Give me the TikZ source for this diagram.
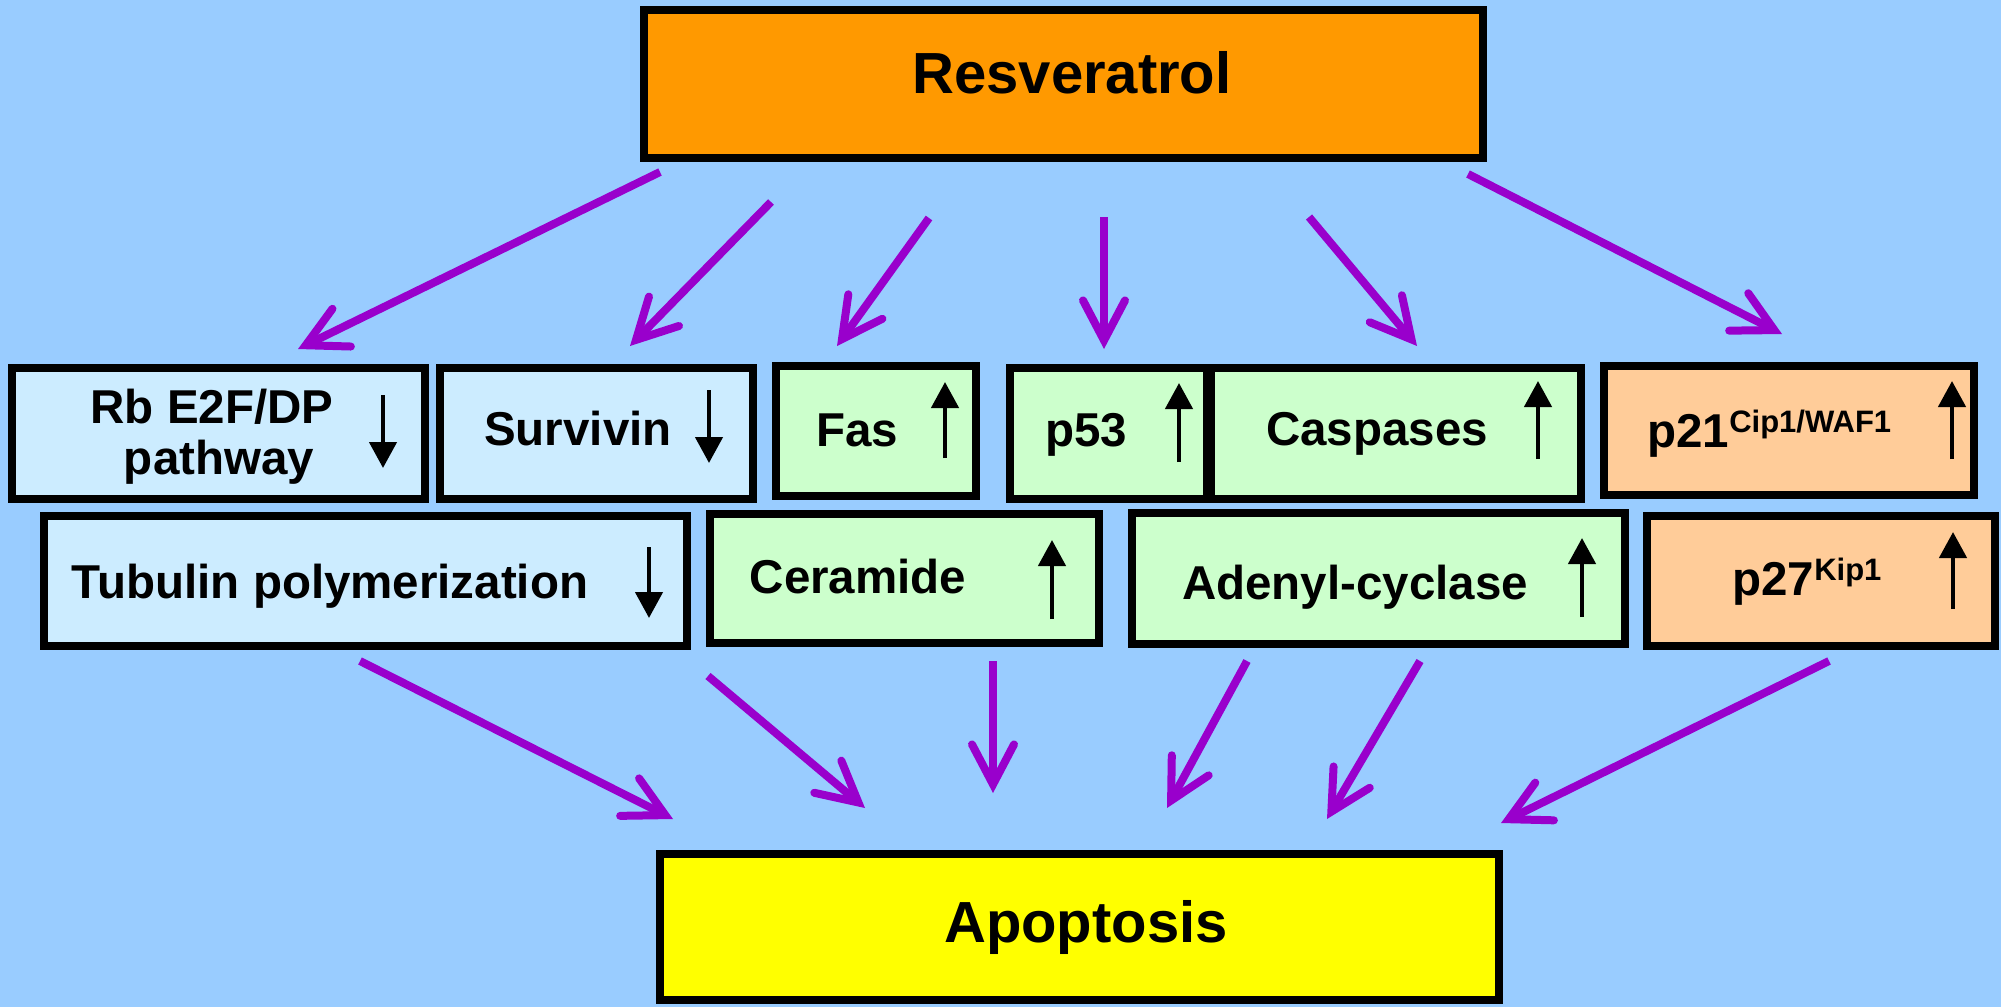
\documentclass[tikz,border=0pt]{standalone}
\usepackage{fontspec}
\setmainfont{Liberation Sans}
\usetikzlibrary{arrows.meta}
\definecolor{bgblue}{HTML}{99CCFF}
\definecolor{lblue}{HTML}{CCECFF}
\definecolor{lgreen}{HTML}{CCFFCC}
\definecolor{peach}{HTML}{FFCC99}
\definecolor{orng}{HTML}{FF9900}
\definecolor{yell}{HTML}{FFFF00}
\definecolor{purp}{HTML}{9900CC}
\tikzset{
  box/.style={draw=black, line width=4pt, inner sep=0pt},
  lbl/.style={font=\fontsize{23.75}{28}\selectfont\bfseries, inner sep=0pt, anchor=base},
  ttl/.style={font=\fontsize{29}{34}\selectfont\bfseries, inner sep=0pt, anchor=base},
  flow/.style={draw=purp, line width=4pt, -{Straight Barb[length=20pt,width=21pt,line cap=round,line join=miter]}},
  updown/.style={draw=black, line width=2.25pt, -{Triangle[length=13pt,width=13.5pt]}},
}
\newcommand{\mybox}[6]{\node[box, fill=#6, minimum width={(#4-#2-8)*0.5pt}, minimum height={(#5-#3-8)*0.5pt}] (#1) at ({(#2+#4)/2},{(#3+#5)/2}) {};}
\newcommand{\sups}[1]{\raisebox{7.25pt}{\fontsize{15.5}{18}\selectfont #1}}
\newcommand{\flowarrow}[5]{\coordinate (#1s) at (#2,#3); \coordinate (#1t) at (#4,#5); \draw[flow] (#1s) -- (#1t);}
\newcommand{\markarrow}[4]{\coordinate (#1a) at (#2,#3); \coordinate (#1b) at (#2,#4); \draw[updown] (#1a) -- (#1b);}
\begin{document}
\begin{tikzpicture}[x=0.5pt, y=-0.5pt]
\fill[bgblue] (0,0) rectangle (2001,1007);
\useasboundingbox (0,0) rectangle (2001,1007);

% main boxes
\mybox{res}{640}{6}{1487}{162}{orng}
\node[ttl] (restxt) at (1072,93) {Resveratrol};
\mybox{apo}{656}{850}{1503}{1004}{yell}
\node[ttl] (apotxt) at (1086,942) {Apoptosis};

% row 1
\mybox{rb}{8}{364}{429}{503}{lblue}
\node[lbl] (rbtxtA) at (212,423) {Rb E2F/DP};
\node[lbl] (rbtxtB) at (219,474) {pathway};
\markarrow{rbm}{383}{395}{468}

\mybox{surv}{436}{364}{757}{503}{lblue}
\node[lbl] (survtxt) at (578,445) {Survivin};
\markarrow{survm}{709}{390}{463}

\mybox{fas}{772}{362}{980}{500}{lgreen}
\node[lbl] (fastxt) at (857,446) {Fas};
\markarrow{fasm}{945}{458}{382}

\mybox{p53}{1006}{364}{1211}{503}{lgreen}
\node[lbl] (p53txt) at (1086,446) {p53};
\markarrow{p53m}{1179}{462}{383}

\mybox{casp}{1207}{364}{1585}{503}{lgreen}
\node[lbl] (casptxt) at (1377,445) {Caspases};
\markarrow{caspm}{1538}{459}{381}

\mybox{p21}{1600}{362}{1978}{499}{peach}
\node[lbl, anchor=base west] (p21txt) at (1647,447) {p21\sups{Cip1/WAF1}};
\markarrow{p21m}{1952}{459}{381}

% row 2
\mybox{tub}{40}{512}{691}{650}{lblue}
\node[lbl] (tubtxt) at (330,598) {Tubulin polymerization};
\markarrow{tubm}{649}{547}{618}

\mybox{cer}{706}{510}{1103}{647}{lgreen}
\node[lbl] (certxt) at (858,593) {Ceramide};
\markarrow{cerm}{1052}{619}{540}

\mybox{ade}{1128}{509}{1629}{648}{lgreen}
\node[lbl] (adetxt) at (1355,599) {Adenyl-cyclase};
\markarrow{adem}{1582}{617}{538}

\mybox{p27}{1643}{512}{1999}{650}{peach}
\node[lbl, anchor=base west] (p27txt) at (1732,595) {p27\sups{Kip1}};
\markarrow{p27m}{1953}{609}{532}

% arrows from Resveratrol
\flowarrow{ta}{660}{172}{298}{349}
\flowarrow{tb}{771}{202}{630}{346}
\flowarrow{tc}{929}{218}{837}{346}
\flowarrow{td}{1104}{217}{1104}{349}
\flowarrow{te}{1309}{217}{1417}{346}
\flowarrow{tf}{1468}{174}{1782}{334}

% arrows to Apoptosis
\flowarrow{ba}{360}{661}{673}{819}
\flowarrow{bb}{708}{676}{865}{808}
\flowarrow{bc}{993}{661}{993}{793}
\flowarrow{bd}{1247}{661}{1167}{808}
\flowarrow{be}{1420}{661}{1327}{819}
\flowarrow{bf}{1829}{661}{1501}{823}
\end{tikzpicture}
\end{document}
